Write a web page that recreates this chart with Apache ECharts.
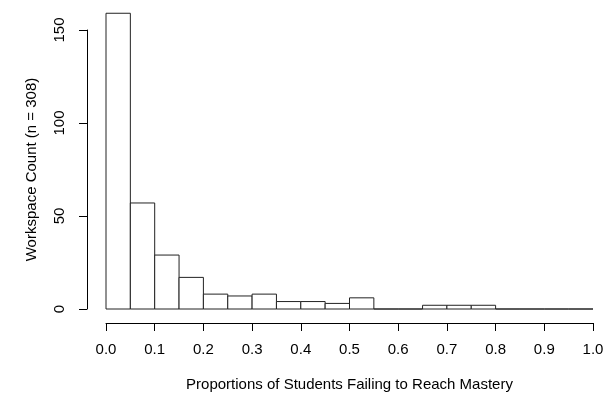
<!DOCTYPE html>
<html><head><meta charset="utf-8">
<script src="https://cdn.jsdelivr.net/npm/echarts@6/dist/echarts.min.js"></script>
<style>html,body{margin:0;padding:0;background:#fff}#c{width:611px;height:397px}</style>
</head><body><div id="c"></div>
<script>
var binStarts = [0.00,0.05,0.10,0.15,0.20,0.25,0.30,0.35,0.40,0.45,0.50,0.55,0.60,0.65,0.70,0.75,0.80,0.85,0.90,0.95];
var binWidth = 0.05;
var counts = [159,57,29,17,8,7,8,4,4,3,6,0,0,2,2,2,0,0,0,0];
var xTicks = [0,0.1,0.2,0.3,0.4,0.5,0.6,0.7,0.8,0.9,1.0];
var yTicks = [0,50,100,150];
var xTitle = 'Proportions of Students Failing to Reach Mastery';
var yTitle = 'Workspace Count (n = 308)';

var data = binStarts.map(function(s,i){return [s, s+binWidth, counts[i]];});
var chart = echarts.init(document.getElementById('c'), null, {renderer:'canvas'});
var font = 'Liberation Sans, Arial, sans-serif';
chart.setOption({
  animation:false,
  backgroundColor:'#fff',
  grid:{left:106, right:18, top:30, bottom:88},
  xAxis:{type:'value', min:0, max:1, interval:0.1, offset:14,
    axisLine:{show:true, onZero:false, lineStyle:{color:'#000', width:1}},
    axisTick:{show:true, length:8, lineStyle:{color:'#000'}},
    splitLine:{show:false},
    axisLabel:{color:'#000', fontFamily:font, fontSize:15, margin:19,
      formatter:function(v){return v.toFixed(1);}},
    name:xTitle, nameLocation:'middle', nameGap:54,
    nameTextStyle:{color:'#000', fontFamily:font, fontSize:15}
  },
  yAxis:{type:'value', min:0, max:150, interval:50, offset:19,
    axisLine:{show:true, onZero:false, lineStyle:{color:'#000', width:1}},
    axisTick:{show:true, length:8, lineStyle:{color:'#000'}},
    splitLine:{show:false},
    axisLabel:{color:'#000', fontFamily:font, fontSize:15, rotate:90, margin:20,
      align:'center', verticalAlign:'bottom'},
    name:yTitle, nameLocation:'middle', nameGap:48, nameRotate:90,
    nameTextStyle:{color:'#000', fontFamily:font, fontSize:15}
  },
  series:[{
    type:'custom', clip:false,
    data:data,
    renderItem:function(params, api){
      var p0 = api.coord([api.value(0), 0]);
      var p1 = api.coord([api.value(1), api.value(2)]);
      return {type:'rect', shape:{x:p0[0], y:p1[1], width:p1[0]-p0[0], height:p0[1]-p1[1]},
        style:{fill:'#fff', stroke:'#222', lineWidth:1}};
    }
  }]
});
</script></body></html>
